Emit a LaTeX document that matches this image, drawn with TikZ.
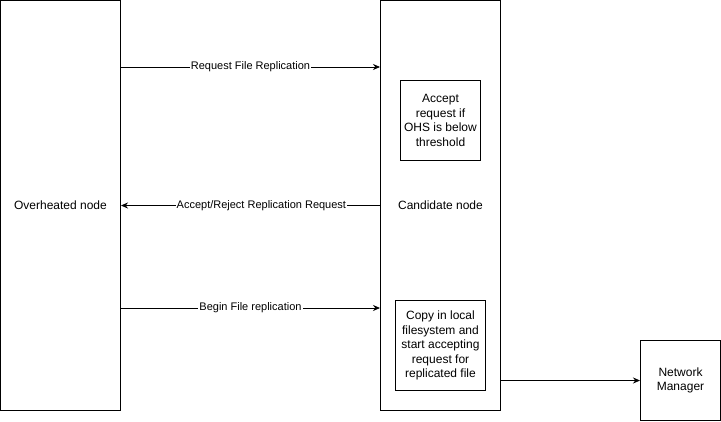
\documentclass[tikz,border=0pt]{standalone}
\usepackage{fontspec}
\setmainfont{Liberation Sans}
\usetikzlibrary{arrows.meta}

\begin{document}
\begin{tikzpicture}[x=1pt, y=-1pt,
        box/.style={draw=black, line width=1pt, inner sep=0pt, align=center,
            font=\fontsize{12}{14.4}\selectfont},
        msg/.style={draw=black, line width=0.8pt, -{Stealth[length=7pt, width=6pt]}},
        msglabel/.style={fill=white, inner sep=1pt, font=\fontsize{11}{13}\selectfont}]
        \useasboundingbox (0,0) rectangle (721,421);

        % nodes
        \node[box, minimum width=120, minimum height=410] (oh) at (60.5,205.5) {Overheated node};
        \node[box, minimum width=120, minimum height=410] (cand) at (440.5,205.5) {Candidate node};
        \node[box, minimum width=80, minimum height=80] (accept) at (440.5,120.5)
            {Accept\\request if\\OHS is below\\threshold};
        \node[box, minimum width=90, minimum height=90] (copy) at (440.5,345.5)
            {Copy in local\\filesystem and\\start accepting\\request for\\replicated file};
        \node[box, minimum width=80, minimum height=80] (nm) at (680.5,380.5)
            {Network\\Manager};

        % messages
        \draw[msg] (oh.east |- 0,67) -- node[msglabel] {Request File Replication} (cand.west |- 0,67);
        \draw[msg] (cand.west |- 0,205.5) -- node[msglabel, pos=0.458] {Accept/Reject Replication Request} (oh.east |- 0,205.5);
        \draw[msg] (oh.east |- 0,308) -- node[msglabel] {Begin File replication} (cand.west |- 0,308);
        \draw[msg] (cand.east |- nm.west) -- (nm.west);

\end{tikzpicture}
\end{document}
